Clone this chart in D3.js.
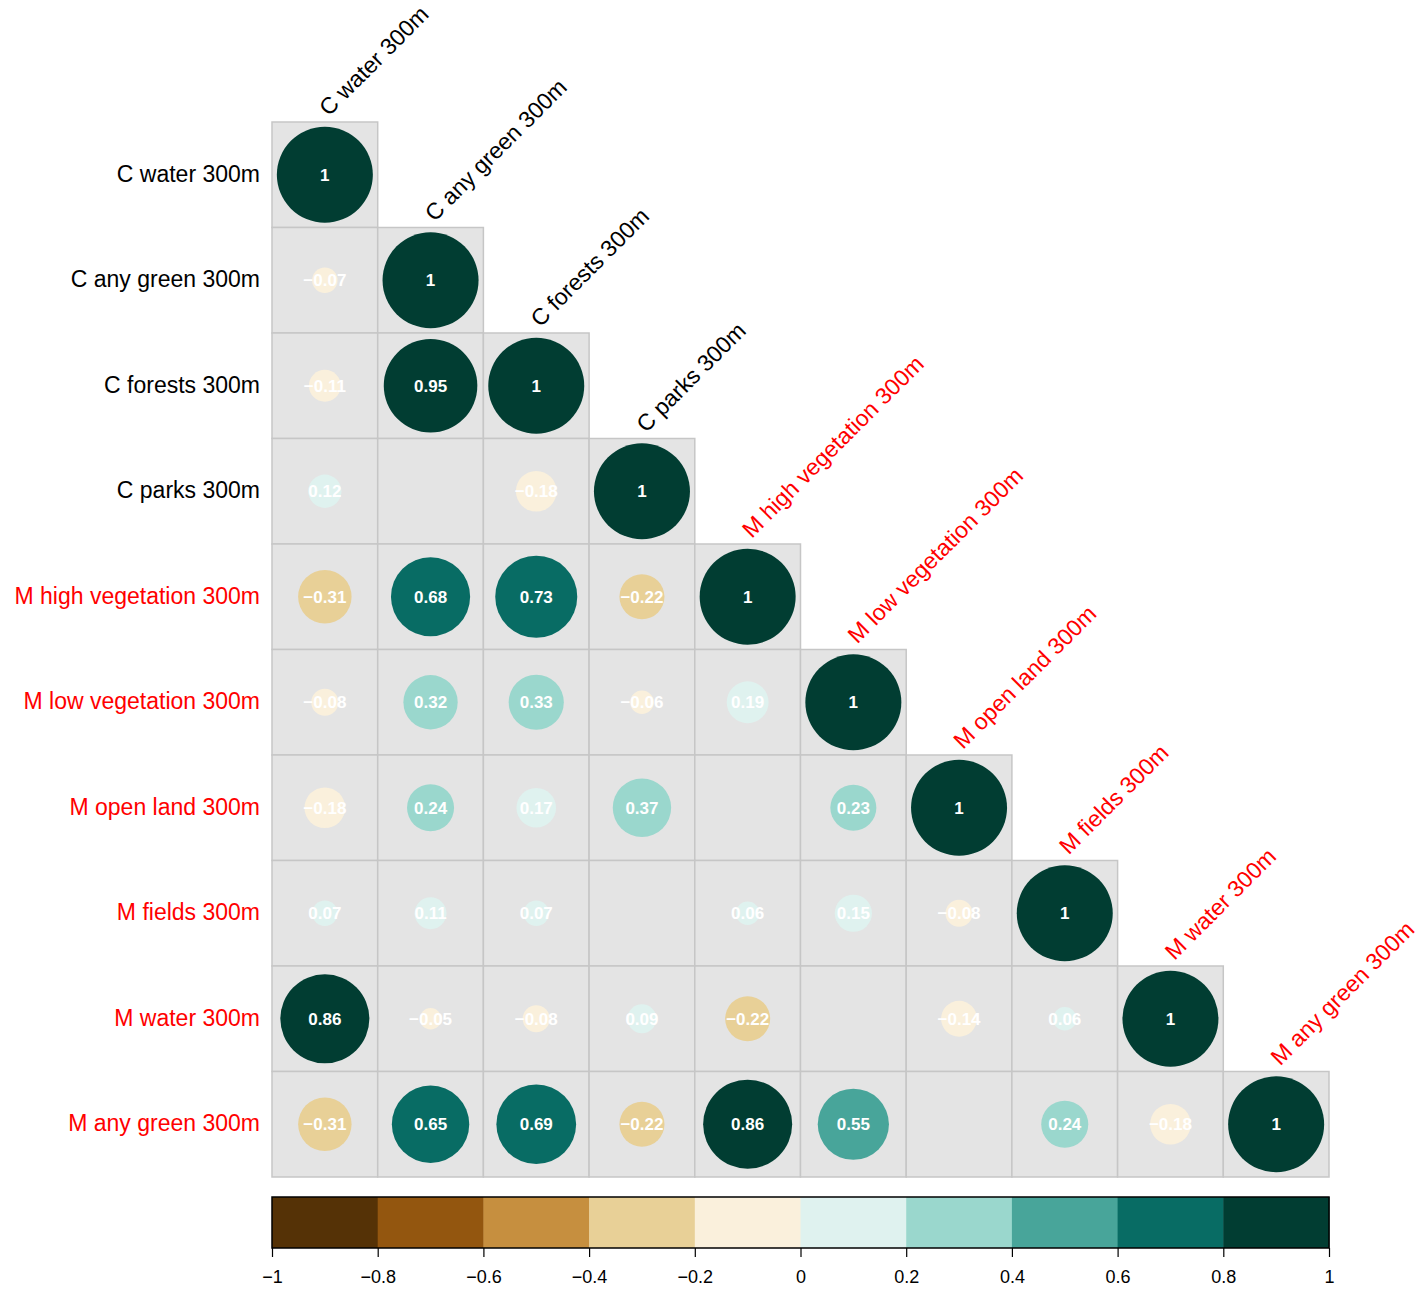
<!DOCTYPE html>
<html>
<head>
<meta charset="utf-8">
<script src="https://cdn.jsdelivr.net/npm/d3@7"></script>
<style>
  body { margin: 0; background: #fff; }
  text { font-family: "Liberation Sans", Arial, sans-serif; }
</style>
</head>
<body>
<svg width="1426" height="1290"></svg>
<script>
(function (d3) {
  "use strict";

  const variables = [
    "C water 300m", "C any green 300m", "C forests 300m", "C parks 300m",
    "M high vegetation 300m", "M low vegetation 300m", "M open land 300m",
    "M fields 300m", "M water 300m", "M any green 300m"
  ];
  const labelColors = ["black", "black", "black", "black", "red", "red", "red", "red", "red", "red"];

  // lower triangle, row by row (null = blank cell)
  const corrRows = [
    [1],
    [-0.07, 1],
    [-0.11, 0.95, 1],
    [0.12, null, -0.18, 1],
    [-0.31, 0.68, 0.73, -0.22, 1],
    [-0.08, 0.32, 0.33, -0.06, 0.19, 1],
    [-0.18, 0.24, 0.17, 0.37, null, 0.23, 1],
    [0.07, 0.11, 0.07, null, 0.06, 0.15, -0.08, 1],
    [0.86, -0.05, -0.08, 0.09, -0.22, null, -0.14, 0.06, 1],
    [-0.31, 0.65, 0.69, -0.22, 0.86, 0.55, null, 0.24, -0.18, 1]
  ];

  const palette = [
    "#553206", "#93560f", "#c68f3f", "#e8d097", "#faf0dc",
    "#dff2ef", "#9ad7cd", "#48a59a", "#086c64", "#013d32"
  ];
  const legendTicks = [-1, -0.8, -0.6, -0.4, -0.2, 0, 0.2, 0.4, 0.6, 0.8, 1];

  const svg = d3.select("svg");

  const x = d3.scaleBand().domain(variables).range([272, 1329]);
  const y = d3.scaleBand().domain(variables).range([122, 1177]);
  const color = d3.scaleQuantize().domain([-1, 1]).range(palette);
  const radius = d3.scaleSqrt().domain([0, 1]).range([0, 48]);
  const fmt = (v) => (v === 1 ? "1" : d3.format(".2f")(v).replace("-", "\u2212"));

  const cells = [];
  corrRows.forEach((row, i) => {
    row.forEach((v, j) => {
      cells.push({ row: variables[i], col: variables[j], value: v });
    });
  });

  const g = svg.append("g");

  g.selectAll("rect.cell")
    .data(cells)
    .enter()
    .append("rect")
    .attr("class", "cell")
    .attr("x", (d) => x(d.col))
    .attr("y", (d) => y(d.row))
    .attr("width", x.bandwidth())
    .attr("height", y.bandwidth())
    .attr("fill", "#e4e4e4")
    .attr("stroke", "#c6c6c6")
    .attr("stroke-width", 1.5);

  const filled = cells.filter((d) => d.value !== null);

  g.selectAll("circle")
    .data(filled)
    .enter()
    .append("circle")
    .attr("cx", (d) => x(d.col) + x.bandwidth() / 2)
    .attr("cy", (d) => y(d.row) + y.bandwidth() / 2)
    .attr("r", (d) => radius(Math.abs(d.value)))
    .attr("fill", (d) => color(d.value));

  g.selectAll("text.val")
    .data(filled)
    .enter()
    .append("text")
    .attr("class", "val")
    .attr("x", (d) => x(d.col) + x.bandwidth() / 2)
    .attr("y", (d) => y(d.row) + y.bandwidth() / 2)
    .attr("dy", "0.36em")
    .attr("text-anchor", "middle")
    .attr("fill", "white")
    .attr("font-weight", "bold")
    .attr("font-size", 17)
    .text((d) => fmt(d.value));

  // row labels
  svg.selectAll("text.rowlab")
    .data(variables)
    .enter()
    .append("text")
    .attr("class", "rowlab")
    .attr("x", 260)
    .attr("y", (d) => y(d) + y.bandwidth() / 2)
    .attr("dy", "0.3em")
    .attr("text-anchor", "end")
    .attr("font-size", 23)
    .attr("fill", (d, i) => labelColors[i])
    .text((d) => d);

  // column labels on the diagonal
  svg.selectAll("text.collab")
    .data(variables)
    .enter()
    .append("text")
    .attr("class", "collab")
    .attr("transform", (d) => `translate(${x(d) + x.bandwidth() / 2 + 4}, ${y(d) - 5}) rotate(-45)`)
    .attr("text-anchor", "start")
    .attr("font-size", 23)
    .attr("fill", (d, i) => labelColors[i])
    .text((d) => d);

  // colour bar
  const legendScale = d3.scaleLinear().domain([-1, 1]).range([272, 1329]);
  const legendTop = 1197;
  const legendHeight = 51;
  const bins = palette.map((c, i) => ({ color: c, from: -1 + i * 0.2, to: -1 + (i + 1) * 0.2 }));

  const legend = svg.append("g");
  legend.selectAll("rect")
    .data(bins)
    .enter()
    .append("rect")
    .attr("x", (d) => legendScale(d.from))
    .attr("y", legendTop)
    .attr("width", (d) => legendScale(d.to) - legendScale(d.from) + 0.5)
    .attr("height", legendHeight)
    .attr("fill", (d) => d.color);

  legend.append("rect")
    .attr("x", 272)
    .attr("y", legendTop)
    .attr("width", 1329 - 272)
    .attr("height", legendHeight)
    .attr("fill", "none")
    .attr("stroke", "black")
    .attr("stroke-width", 1.5);

  const legendAxis = d3.axisBottom(legendScale)
    .tickValues(legendTicks)
    .tickSize(9)
    .tickPadding(13)
    .tickFormat((d) => String(+d.toFixed(1)).replace("-", "\u2212"));

  const axisG = legend.append("g")
    .attr("transform", `translate(0, ${legendTop + legendHeight})`)
    .call(legendAxis);
  axisG.select(".domain").remove();
  axisG.selectAll(".tick line").attr("stroke", "black").attr("stroke-width", 1.2);
  axisG.selectAll(".tick text")
    .attr("font-family", "Liberation Sans, Arial, sans-serif")
    .attr("font-size", 18)
    .attr("fill", "black");
})(d3);
</script>
</body>
</html>
